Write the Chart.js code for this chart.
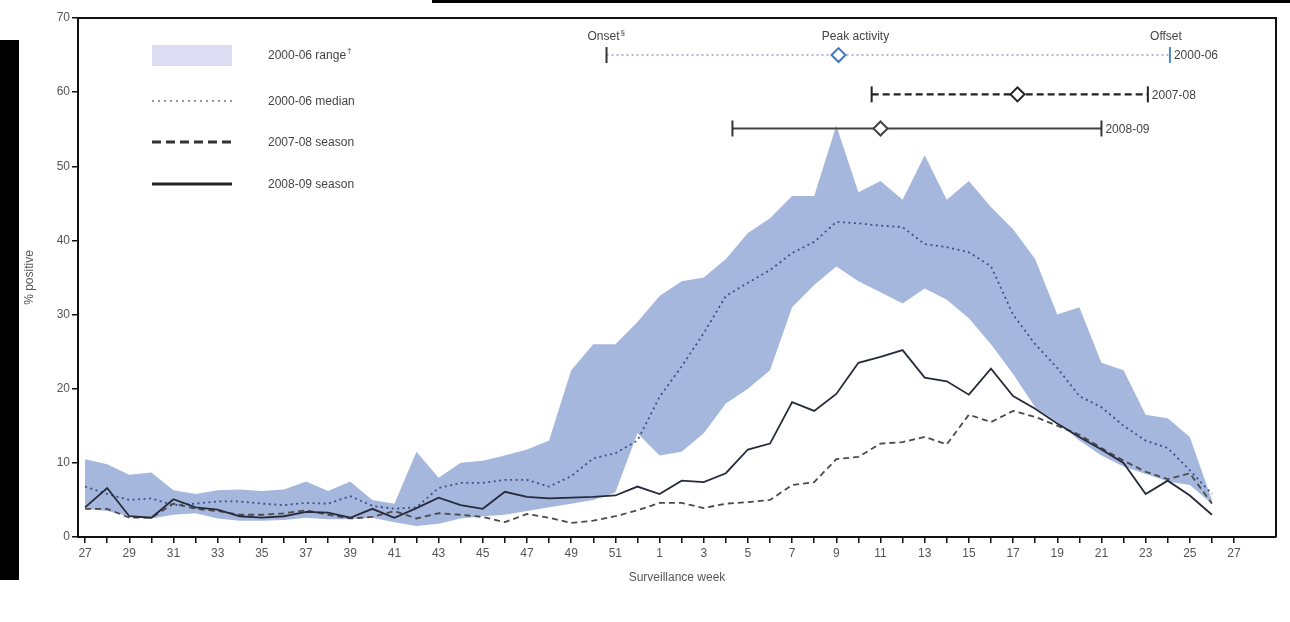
<!DOCTYPE html>
<html><head><meta charset="utf-8">
<script src="https://cdn.jsdelivr.net/npm/chart.js@4.4.1/dist/chart.umd.min.js"></script>
<style>
html,body{margin:0;padding:0;background:#fff;}
#wrap{position:relative;width:1290px;height:622px;overflow:hidden;background:#fff;}
#c{position:absolute;left:0;top:0;}
.blk{position:absolute;background:#000;}
</style></head><body>
<div id="wrap">
<canvas id="c" width="1290" height="622"></canvas>
<div class="blk" style="left:0;top:40px;width:19px;height:540px"></div>
<div class="blk" style="left:432px;top:0;width:858px;height:3px"></div>
</div>
<script>
// ---- Data (surveillance weeks 27 of 2008 .. 26 of 2009) ----
const weeks = [27,28,29,30,31,32,33,34,35,36,37,38,39,40,41,42,43,44,45,46,47,48,49,50,51,52,
               1,2,3,4,5,6,7,8,9,10,11,12,13,14,15,16,17,18,19,20,21,22,23,24,25,26];
const tickLabels = ['27','29','31','33','35','37','39','41','43','45','47','49','51',
                    '1','3','5','7','9','11','13','15','17','19','21','23','25','27'];
const rangeMax = [10.5,9.8,8.4,8.7,6.3,5.8,6.3,6.4,6.2,6.4,7.5,6.2,7.5,5.0,4.5,11.5,8.0,10.0,10.3,11.0,11.8,13.0,22.5,26.0,26.0,29.0,
                  32.5,34.5,35.0,37.5,41.0,43.0,46.0,46.0,55.5,46.5,48.0,45.5,51.5,45.5,48.0,44.5,41.5,37.5,30.0,31.0,23.5,22.5,16.5,16.0,13.5,5.0];
const rangeMin = [3.8,3.5,2.8,2.5,3.0,3.2,2.5,2.2,2.2,2.3,2.6,2.4,2.4,2.6,2.0,1.5,1.8,2.5,2.8,3.0,3.5,4.0,4.5,5.0,6.0,14.0,
                  11.0,11.5,14.0,18.0,20.0,22.5,31.0,34.0,36.5,34.5,33.0,31.5,33.5,32.0,29.5,26.0,22.0,17.5,15.5,13.0,11.0,9.5,8.5,7.5,7.0,4.5];
const median = [6.8,5.8,5.0,5.2,4.3,4.5,4.8,4.8,4.5,4.3,4.6,4.5,5.5,4.2,3.8,4.0,6.6,7.3,7.3,7.7,7.7,6.8,8.2,10.6,11.3,13.0,
                18.9,23.0,27.5,32.5,34.3,36.0,38.3,39.8,42.5,42.3,42.0,41.8,39.5,39.1,38.4,36.5,30.0,26.0,22.8,19.0,17.5,15.0,13.0,12.0,9.0,5.8];
const season0708 = [3.8,3.8,2.6,2.6,4.5,3.8,3.5,3.0,3.0,3.2,3.6,3.0,2.5,2.7,3.5,2.5,3.2,3.0,2.7,2.0,3.1,2.6,1.9,2.2,2.8,3.6,
                    4.6,4.6,3.9,4.5,4.7,5.0,7.0,7.4,10.5,10.8,12.6,12.8,13.5,12.5,16.5,15.5,17.0,16.2,15.0,13.8,12.0,10.3,8.8,7.8,8.6,4.5];
const season0809 = [4.0,6.6,2.8,2.6,5.1,4.0,3.7,2.8,2.6,2.8,3.4,3.3,2.6,3.8,2.6,3.9,5.3,4.3,3.8,6.1,5.4,5.2,5.3,5.4,5.6,6.8,
                    5.8,7.6,7.4,8.6,11.8,12.6,18.2,17.0,19.3,23.5,24.3,25.2,21.5,21.0,19.2,22.7,19.0,17.3,15.3,13.5,11.8,10.0,5.8,7.6,5.6,3.0];
// Season timing (in weeks since week 27)
const timingSeasons = ['2000-06','2007-08','2008-09'];
const onsetWk  = [23.6, 35.6, 29.3];
const peakWk   = [34.1, 42.2, 36.0];
const offsetWk = [49.1, 48.1, 46.0];

// ---- styling / layout constants ----
const ROW_LEVEL = [65, 59.7, 55.1];
const FONT = '"Liberation Sans", Arial, sans-serif';
const BAND = 'rgb(166,183,222)';

const pts = arr => arr.map((v, i) => ({x: i, y: v}));

const rowStyles = [
  {line:'#a9bde3', dash:[2,3], width:2, tick:['#333','#4f86cc'], diamond:'#3f77c0'},
  {line:'#222', dash:[7,4], width:2.2, tick:['#222','#222'], diamond:'#222'},
  {line:'#444', dash:[], width:2, tick:['#333','#333'], diamond:'#444'}
];

const datasets = [
  {label:'min', order:10, data: pts(rangeMin), borderWidth:0, pointRadius:0, fill:false},
  {label:'2000-06 range', order:9, data: pts(rangeMax), borderWidth:0, pointRadius:0, fill:'-1', backgroundColor: BAND},
  {label:'2000-06 median', order:5, data: pts(median), borderColor:'#3d4f86', borderWidth:1.8, borderDash:[2,3.5], pointRadius:0, fill:false},
  {label:'2007-08 season', order:4, data: pts(season0708), borderColor:'#4a4a4a', borderWidth:1.8, borderDash:[6,4], pointRadius:0, fill:false},
  {label:'2008-09 season', order:3, data: pts(season0809), borderColor:'#262a3a', borderWidth:1.8, pointRadius:0, fill:false}
];
timingSeasons.forEach((s, r) => {
  const st = rowStyles[r];
  datasets.push({
    label: s + ' timing', order: 2,
    data: [{x: onsetWk[r], y: ROW_LEVEL[r]}, {x: offsetWk[r], y: ROW_LEVEL[r]}],
    borderColor: st.line, borderWidth: st.width, borderDash: st.dash,
    pointStyle: 'line', rotation: 90, pointRadius: 8, pointBorderWidth: 2,
    pointBorderColor: st.tick, fill:false
  });
  datasets.push({
    label: s + ' peak', order: 1,
    data: [{x: peakWk[r], y: ROW_LEVEL[r]}],
    showLine: false, pointStyle: 'rectRot', pointRadius: 7, pointBorderWidth: 2,
    pointBackgroundColor: '#fff', pointBorderColor: st.diamond, fill:false
  });
});

const decor = {
  id: 'decor',
  afterDatasetsDraw(chart) {
    const {ctx, chartArea: a, scales: {x, y}} = chart;
    ctx.save();
    // box border (top & right)
    ctx.strokeStyle = '#111'; ctx.lineWidth = 2; ctx.setLineDash([]);
    ctx.beginPath();
    ctx.moveTo(a.left, a.top); ctx.lineTo(a.right, a.top); ctx.lineTo(a.right, a.bottom);
    ctx.stroke();

    // legend
    ctx.fillStyle = '#dcdcf2';
    ctx.fillRect(152, 45, 80, 21);
    ctx.strokeStyle = '#777'; ctx.lineWidth = 1.6; ctx.setLineDash([2,4]);
    ctx.beginPath(); ctx.moveTo(152, 101); ctx.lineTo(232, 101); ctx.stroke();
    ctx.strokeStyle = '#333'; ctx.lineWidth = 3; ctx.setLineDash([9,5]);
    ctx.beginPath(); ctx.moveTo(152, 142); ctx.lineTo(232, 142); ctx.stroke();
    ctx.setLineDash([]); ctx.lineWidth = 3.2; ctx.strokeStyle = '#222';
    ctx.beginPath(); ctx.moveTo(152, 184); ctx.lineTo(232, 184); ctx.stroke();

    ctx.font = '12px ' + FONT; ctx.fillStyle = '#444';
    ctx.textBaseline = 'middle'; ctx.textAlign = 'left';
    const legTexts = ['2000-06 range', '2000-06 median', '2007-08 season', '2008-09 season'];
    const legY = [56, 102, 143, 185];
    legTexts.forEach((t, i) => ctx.fillText(t, 268, legY[i]));
    const w0 = ctx.measureText(legTexts[0]).width;
    ctx.font = '8px ' + FONT; ctx.fillText('\u2020', 269 + w0, 51);

    // timing labels
    ctx.font = '12px ' + FONT; ctx.fillStyle = '#444';
    const top = y.getPixelForValue(ROW_LEVEL[0]) - 18;
    ctx.textAlign = 'center';
    const ox = x.getPixelForValue(onsetWk[0]);
    ctx.fillText('Onset', ox - 3, top);
    const ow = ctx.measureText('Onset').width;
    ctx.font = '8px ' + FONT; ctx.textAlign = 'left';
    ctx.fillText('\u00a7', ox - 3 + ow / 2 + 1, top - 4);
    ctx.font = '12px ' + FONT; ctx.textAlign = 'center';
    ctx.fillText('Peak activity', x.getPixelForValue(peakWk[0]) + 17, top);
    ctx.fillText('Offset', x.getPixelForValue(offsetWk[0]) - 4, top);
    ctx.textAlign = 'left';
    timingSeasons.forEach((s, r) => {
      ctx.fillText(s, x.getPixelForValue(offsetWk[r]) + 4, y.getPixelForValue(ROW_LEVEL[r]) + 1);
    });
    ctx.restore();
  }
};

Chart.defaults.font.family = FONT;
Chart.defaults.font.size = 12;
Chart.defaults.color = '#555';

new Chart(document.getElementById('c'), {
  type: 'line',
  data: {datasets},
  options: {
    responsive: false, animation: false, devicePixelRatio: 1,
    layout: {padding: {top: 18, right: 14, left: 0, bottom: 0}},
    plugins: {legend: {display: false}, tooltip: {enabled: false}},
    elements: {line: {tension: 0}},
    scales: {
      x: {
        type: 'linear', min: -0.32, max: 53.9,
        afterFit: s => { s.height = 85; },
        afterBuildTicks: s => { s.ticks = s.ticks.filter(t => Number.isInteger(t.value) && t.value >= 0 && t.value <= 52); },
        ticks: {stepSize: 1, autoSkip: false, includeBounds: false, maxRotation: 0, padding: 3, color: '#555',
                callback: v => (v % 2 === 0 ? tickLabels[v / 2] : '')},
        grid: {drawOnChartArea: false, drawTicks: true, tickLength: 6, color: '#111', lineWidth: 1.5},
        border: {display: true, color: '#111', width: 2},
        title: {display: true, text: 'Surveillance week', color: '#555', font: {size: 12}, padding: {bottom: 37}}
      },
      y: {
        min: 0, max: 70,
        afterFit: s => { s.width = 78; },
        ticks: {stepSize: 10, padding: 2, color: '#555'},
        grid: {drawOnChartArea: false, drawTicks: true, tickLength: 6, color: '#111', lineWidth: 1.5},
        border: {display: true, color: '#111', width: 2},
        title: {display: true, text: '% positive', color: '#555', font: {size: 12}, padding: {top: 22}}
      }
    }
  },
  plugins: [decor]
});
</script>
</body></html>
